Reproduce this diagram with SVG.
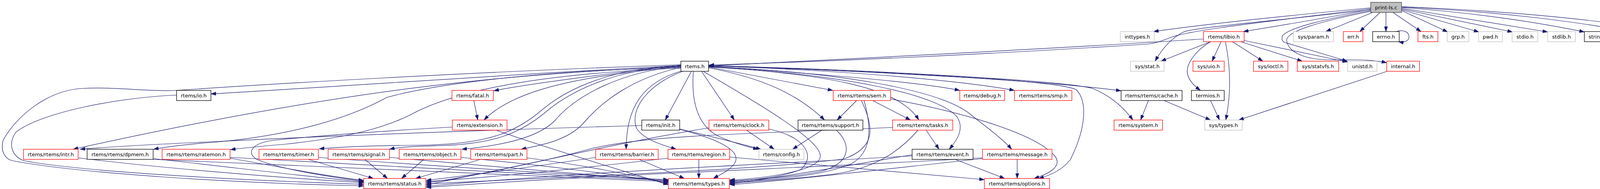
<svg xmlns="http://www.w3.org/2000/svg" width="4362" height="485" viewBox="0 0 4362 485">
<defs>
<marker id="ah" viewBox="0 0 13 9" refX="13" refY="4.5" markerWidth="13" markerHeight="9" markerUnits="userSpaceOnUse" orient="auto"><path d="M0,0L13,4.5L0,9z" fill="#191970" stroke="#191970" stroke-width="0.6"/></marker>
</defs>
<style>
.e path{fill:none;stroke:#191970;stroke-width:1.2;marker-end:url(#ah)}
rect{fill:#fff;stroke-width:1.3}
.r rect{stroke:#ff0000}
.k rect{stroke:#000}
.g rect{stroke:#bfbfbf}
.root rect{fill:#bfbfbf;stroke:#404040}
text{font-family:"DejaVu Sans",Verdana,sans-serif;font-size:13px;fill:#000;text-anchor:middle}
</style>
<rect x="0" y="0" width="4362" height="485" fill="#fff" stroke="none"/>
<g id="connectors" class="e">
<path d="M3509,20 C3300,40 3100,60 2953,81"/>
<path d="M3509,24 C3400,45 3300,62 3183,81"/>
<path d="M3514,32 L3394,81"/>
<path d="M3533,32 L3481,81"/>
<path d="M3548,32 L3548,81"/>
<path d="M3566,32 L3638,81"/>
<path d="M3588,27 L3706,82"/>
<path d="M3588,25 L3786,82"/>
<path d="M3588,23 L3872,82"/>
<path d="M3588,21 L3962,82"/>
<path d="M3588,19 C3800,35 3950,60 4056,82"/>
<path d="M3588,18 C3850,30 4050,58 4176,82"/>
<path d="M3588,17 C3900,30 4120,55 4264,81"/>
<path d="M3574,81 C3590,76 3607,80 3607,94 C3607,105 3596,110 3580,107"/>
<path d="M4118,81 C4134,76 4151,80 4151,94 C4151,105 4140,110 4124,107"/>
<path d="M3509,22 C3250,55 3060,75 3000,95 C2975,105 2960,110 2940,113 C2600,135 2200,155 1815,167"/>
<path d="M3081,100 C2700,125 2200,150 1815,169"/>
<path d="M3509,25 C3250,55 3060,70 3030,82 C3000,97 2975,125 2957,157"/>
<path d="M3099,107 L2972,157"/>
<path d="M3126,107 L3103,157"/>
<path d="M3099,107 C3060,130 3035,165 3040,190 C3045,210 3060,222 3073,232"/>
<path d="M3137,107 C3150,170 3152,240 3138,308"/>
<path d="M3155,107 L3233,157"/>
<path d="M3176,107 L3334,157"/>
<path d="M3185,104 L3450,159"/>
<path d="M3509,27 C3400,48 3300,70 3283,92 C3280,102 3284,107 3289,109 L3449,157"/>
<path d="M3509,29 C3380,55 3290,80 3294,105 C3298,130 3330,150 3390,153 C3450,155 3500,150 3550,161"/>
<path d="M3099,258 L3122,308"/>
<path d="M2940,258 L2920,308"/>
<path d="M2980,258 L3099,308"/>
<path d="M3551,183 L3171,308"/>
<path d="M1814,172 L2132,232"/>
<path d="M1814,174 C1950,200 2040,240 2111,308"/>
<path d="M1796,183 L1880,308"/>
<path d="M1770,183 L1703,308"/>
<path d="M1745,182 C1650,210 1603,270 1603,383"/>
<path d="M1748,183 C1660,215 1610,280 1630,330 C1650,360 1700,373 1731,383"/>
<path d="M1775,183 C1770,250 1780,320 1840,350 C1880,368 1915,377 1941,383"/>
<path d="M1740,331 C1820,350 1900,370 1948,383"/>
<path d="M1911,334 L1982,383"/>
<path d="M2104,334 L2029,383"/>
<path d="M2193,258 L2143,308"/>
<path d="M2234,258 L2331,308"/>
<path d="M1814,171 C2100,190 2300,220 2352,308"/>
<path d="M1814,172 C2150,190 2400,240 2450,300 C2470,330 2450,360 2430,383"/>
<path d="M1814,171 C2150,185 2400,230 2480,290 C2530,330 2565,355 2590,383"/>
<path d="M1814,170 C2100,190 2350,210 2457,232"/>
<path d="M1814,169 C2150,180 2450,205 2597,232"/>
<path d="M1814,168 C2300,185 2700,210 2870,233"/>
<path d="M1814,168 C2300,182 2750,210 2800,228 C2850,250 2880,280 2900,308"/>
<path d="M1814,169 C2300,185 2700,205 2755,230 C2785,260 2780,330 2740,410 C2720,435 2690,450 2659,458"/>
<path d="M2280,254 C2450,285 2650,340 2700,400 C2720,425 2690,445 2647,458"/>
<path d="M2371,334 L2404,383"/>
<path d="M2445,409 L2572,458"/>
<path d="M2604,409 L2604,458"/>
<path d="M1868,403 L2520,461"/>
<path d="M1743,168 C1400,185 900,220 540,241"/>
<path d="M1743,167 C1550,190 1350,215 1264,233"/>
<path d="M1743,171 C1500,195 1320,225 1239,308"/>
<path d="M1213,258 L1223,308"/>
<path d="M1743,171 C1300,190 900,225 187,383"/>
<path d="M1743,173 C1300,185 1080,225 990,250 C900,300 760,345 560,364 C480,370 430,376 393,383"/>
<path d="M1743,175 C1350,190 1150,240 1050,295 C950,345 820,360 730,370 C660,376 620,380 590,384"/>
<path d="M1743,168 C1560,175 1450,230 1390,280 C1320,340 1250,368 1100,372 C1000,374 900,374 817,382"/>
<path d="M1743,169 C1570,178 1460,235 1400,285 C1330,345 1260,370 1120,374 C1080,375 1030,376 997,383"/>
<path d="M1743,170 C1580,185 1470,250 1420,310 C1380,350 1300,372 1182,383"/>
<path d="M1743,173 C1620,200 1540,260 1490,320 C1450,360 1390,372 1334,383"/>
<path d="M1643,322 C1300,332 800,350 560,363 C400,370 300,375 205,383"/>
<path d="M1158,326 C1000,335 850,345 700,360 C640,368 630,395 660,410 C720,435 850,455 931,465"/>
<path d="M200,405 C400,430 700,455 931,469"/>
<path d="M392,407 C600,430 800,455 931,467"/>
<path d="M392,409 C800,430 1300,445 1711,466"/>
<path d="M589,406 C700,425 820,450 931,463"/>
<path d="M589,404 C900,420 1300,445 1711,463"/>
<path d="M789,409 L956,458"/>
<path d="M815,404 C1100,425 1400,445 1711,461"/>
<path d="M934,409 L992,458"/>
<path d="M997,404 C1250,425 1450,445 1711,464"/>
<path d="M1085,409 L1028,458"/>
<path d="M1180,404 C1400,425 1550,445 1711,468"/>
<path d="M1230,409 L1064,458"/>
<path d="M1349,405 C1500,425 1600,445 1711,471"/>
<path d="M452,244 C300,250 100,290 40,340 C20,370 30,400 60,412 C200,440 600,462 931,473"/>
<path d="M1743,166 C1200,185 700,215 450,232 C380,236 300,222 210,227 C120,232 40,300 8,360 C0,390 15,408 30,412 C200,445 600,470 931,477"/>
<path d="M1525,404 C1350,430 1200,450 1091,463"/>
<path d="M1710,406 C1500,430 1300,452 1091,466"/>
<path d="M1815,328 C1500,380 1250,450 1091,469"/>
<path d="M2205,258 C2240,330 2240,380 2160,408 C1900,440 1400,455 1091,472"/>
<path d="M2285,327 C1900,345 1650,345 1500,385 C1350,425 1200,450 1091,475"/>
<path d="M2335,400 C2000,420 1500,440 1091,478"/>
<path d="M2515,405 C2100,430 1500,450 1091,481"/>
<path d="M1636,409 L1752,458"/>
<path d="M1789,409 L1789,458"/>
<path d="M1740,332 C1850,360 1900,390 1880,420 C1865,440 1840,450 1826,458"/>
<path d="M1267,333 C1400,380 1600,440 1711,474"/>
<path d="M1800,183 C1950,270 2100,360 2100,400 C2100,440 1950,458 1868,462"/>
<path d="M1968,331 C2060,350 2090,400 2050,435 C2000,455 1930,462 1868,464"/>
<path d="M2141,334 C2180,370 2180,420 2100,440 C2030,455 1930,460 1868,466"/>
<path d="M2212,258 C2232,330 2232,390 2180,420 C2100,455 1950,462 1868,468"/>
<path d="M2350,334 C2310,380 2250,430 2140,446 C2050,458 1950,464 1868,470"/>
<path d="M2335,397 C2200,420 2000,455 1868,472"/>
<path d="M2515,407 C2300,430 2050,460 1868,474"/>
</g>
<g id="n_print" class="root"><rect x="3509" y="6" width="79" height="26"/><text x="3548.5" y="23.5">print-ls.c</text></g>
<g id="n_inttypes" class="g"><rect x="2868" y="81" width="87" height="26"/><text x="2911.5" y="98.5">inttypes.h</text></g>
<g id="n_libio" class="r"><rect x="3081" y="81" width="104" height="26"/><text x="3133" y="98.5">rtems/libio.h</text></g>
<g id="n_param" class="g"><rect x="3311" y="81" width="103" height="26"/><text x="3362.5" y="98.5">sys/param.h</text></g>
<g id="n_err" class="r"><rect x="3439" y="81" width="50" height="26"/><text x="3464" y="98.5">err.h</text></g>
<g id="n_errno" class="k"><rect x="3514" y="81" width="68" height="26"/><text x="3548" y="98.5">errno.h</text></g>
<g id="n_fts" class="r"><rect x="3630" y="81" width="51" height="26"/><text x="3655.5" y="98.5">fts.h</text></g>
<g id="n_grp" class="g"><rect x="3705" y="81" width="55" height="26"/><text x="3732.5" y="98.5">grp.h</text></g>
<g id="n_pwd" class="g"><rect x="3785" y="81" width="61" height="26"/><text x="3815.5" y="98.5">pwd.h</text></g>
<g id="n_stdio" class="g"><rect x="3871" y="81" width="66" height="26"/><text x="3904" y="98.5">stdio.h</text></g>
<g id="n_stdlib" class="g"><rect x="3962" y="81" width="71" height="26"/><text x="3997.5" y="98.5">stdlib.h</text></g>
<g id="n_string" class="k"><rect x="4056" y="81" width="71" height="26"/><text x="4091.5" y="98.5">string.h</text></g>
<g id="n_time" class="r"><rect x="4175" y="81" width="65" height="26"/><text x="4207.5" y="98.5">time.h</text></g>
<g id="n_externls" class="r"><rect x="4264" y="81" width="93" height="26"/><text x="4310.5" y="98.5">extern-ls.h</text></g>
<g id="n_rtems" class="k"><rect x="1743" y="157" width="71" height="26"/><text x="1778.5" y="174.5">rtems.h</text></g>
<g id="n_stat" class="g"><rect x="2894" y="157" width="86" height="26"/><text x="2937" y="174.5">sys/stat.h</text></g>
<g id="n_uio" class="r"><rect x="3054" y="157" width="80" height="26"/><text x="3094" y="174.5">sys/uio.h</text></g>
<g id="n_ioctl" class="r"><rect x="3209" y="157" width="88" height="26"/><text x="3253" y="174.5">sys/ioctl.h</text></g>
<g id="n_statvfs" class="r"><rect x="3321" y="157" width="106" height="26"/><text x="3374" y="174.5">sys/statvfs.h</text></g>
<g id="n_unistd" class="g"><rect x="3450" y="157" width="75" height="26"/><text x="3487.5" y="174.5">unistd.h</text></g>
<g id="n_internal" class="r"><rect x="3550" y="157" width="84" height="26"/><text x="3592" y="174.5">internal.h</text></g>
<g id="n_io" class="k"><rect x="452" y="232" width="88" height="26"/><text x="496" y="249.5">rtems/io.h</text></g>
<g id="n_fatal" class="r"><rect x="1157" y="232" width="106" height="26"/><text x="1210" y="249.5">rtems/fatal.h</text></g>
<g id="n_sem" class="r"><rect x="2133" y="232" width="147" height="26"/><text x="2206.5" y="249.5">rtems/rtems/sem.h</text></g>
<g id="n_debug" class="r"><rect x="2457" y="232" width="115" height="26"/><text x="2514.5" y="249.5">rtems/debug.h</text></g>
<g id="n_smp" class="r"><rect x="2597" y="232" width="147" height="26"/><text x="2670.5" y="249.5">rtems/rtems/smp.h</text></g>
<g id="n_cache" class="k"><rect x="2870" y="232" width="156" height="26"/><text x="2948" y="249.5">rtems/rtems/cache.h</text></g>
<g id="n_termios" class="k"><rect x="3050" y="232" width="84" height="26"/><text x="3092" y="249.5">termios.h</text></g>
<g id="n_extension" class="r"><rect x="1158" y="308" width="140" height="26"/><text x="1228" y="325.5">rtems/extension.h</text></g>
<g id="n_init" class="k"><rect x="1643" y="308" width="97" height="26"/><text x="1691.5" y="325.5">rtems/init.h</text></g>
<g id="n_clock" class="r"><rect x="1815" y="308" width="153" height="26"/><text x="1891.5" y="325.5">rtems/rtems/clock.h</text></g>
<g id="n_support" class="k"><rect x="2043" y="308" width="166" height="26"/><text x="2126" y="325.5">rtems/rtems/support.h</text></g>
<g id="n_tasks" class="r"><rect x="2285" y="308" width="154" height="26"/><text x="2362" y="325.5">rtems/rtems/tasks.h</text></g>
<g id="n_system" class="r"><rect x="2852" y="308" width="124" height="26"/><text x="2914" y="325.5">rtems/system.h</text></g>
<g id="n_systypes" class="g"><rect x="3084" y="308" width="96" height="26"/><text x="3132" y="325.5">sys/types.h</text></g>
<g id="n_intr" class="r"><rect x="60" y="383" width="140" height="26"/><text x="130" y="400.5">rtems/rtems/intr.h</text></g>
<g id="n_dpmem" class="k"><rect x="223" y="383" width="169" height="26"/><text x="307.5" y="400.5">rtems/rtems/dpmem.h</text></g>
<g id="n_ratemon" class="r"><rect x="415" y="383" width="174" height="26"/><text x="502" y="400.5">rtems/rtems/ratemon.h</text></g>
<g id="n_timer" class="r"><rect x="663" y="383" width="152" height="26"/><text x="739" y="400.5">rtems/rtems/timer.h</text></g>
<g id="n_signal" class="r"><rect x="840" y="383" width="157" height="26"/><text x="918.5" y="400.5">rtems/rtems/signal.h</text></g>
<g id="n_object" class="r"><rect x="1022" y="383" width="158" height="26"/><text x="1101" y="400.5">rtems/rtems/object.h</text></g>
<g id="n_part" class="r"><rect x="1205" y="383" width="144" height="26"/><text x="1277" y="400.5">rtems/rtems/part.h</text></g>
<g id="n_barrier" class="r"><rect x="1525" y="383" width="160" height="26"/><text x="1605" y="400.5">rtems/rtems/barrier.h</text></g>
<g id="n_region" class="r"><rect x="1710" y="383" width="158" height="26"/><text x="1789" y="400.5">rtems/rtems/region.h</text></g>
<g id="n_config" class="g"><rect x="1943" y="383" width="115" height="26"/><text x="2000.5" y="400.5">rtems/config.h</text></g>
<g id="n_event" class="k"><rect x="2335" y="383" width="156" height="26"/><text x="2413" y="400.5">rtems/rtems/event.h</text></g>
<g id="n_message" class="r"><rect x="2515" y="383" width="178" height="26"/><text x="2604" y="400.5">rtems/rtems/message.h</text></g>
<g id="n_status" class="r"><rect x="931" y="458" width="159" height="26"/><text x="1010.5" y="475.5">rtems/rtems/status.h</text></g>
<g id="n_types" class="r"><rect x="1711" y="458" width="156" height="26"/><text x="1789" y="475.5">rtems/rtems/types.h</text></g>
<g id="n_options" class="r"><rect x="2520" y="458" width="167" height="26"/><text x="2603.5" y="475.5">rtems/rtems/options.h</text></g>
</svg>
